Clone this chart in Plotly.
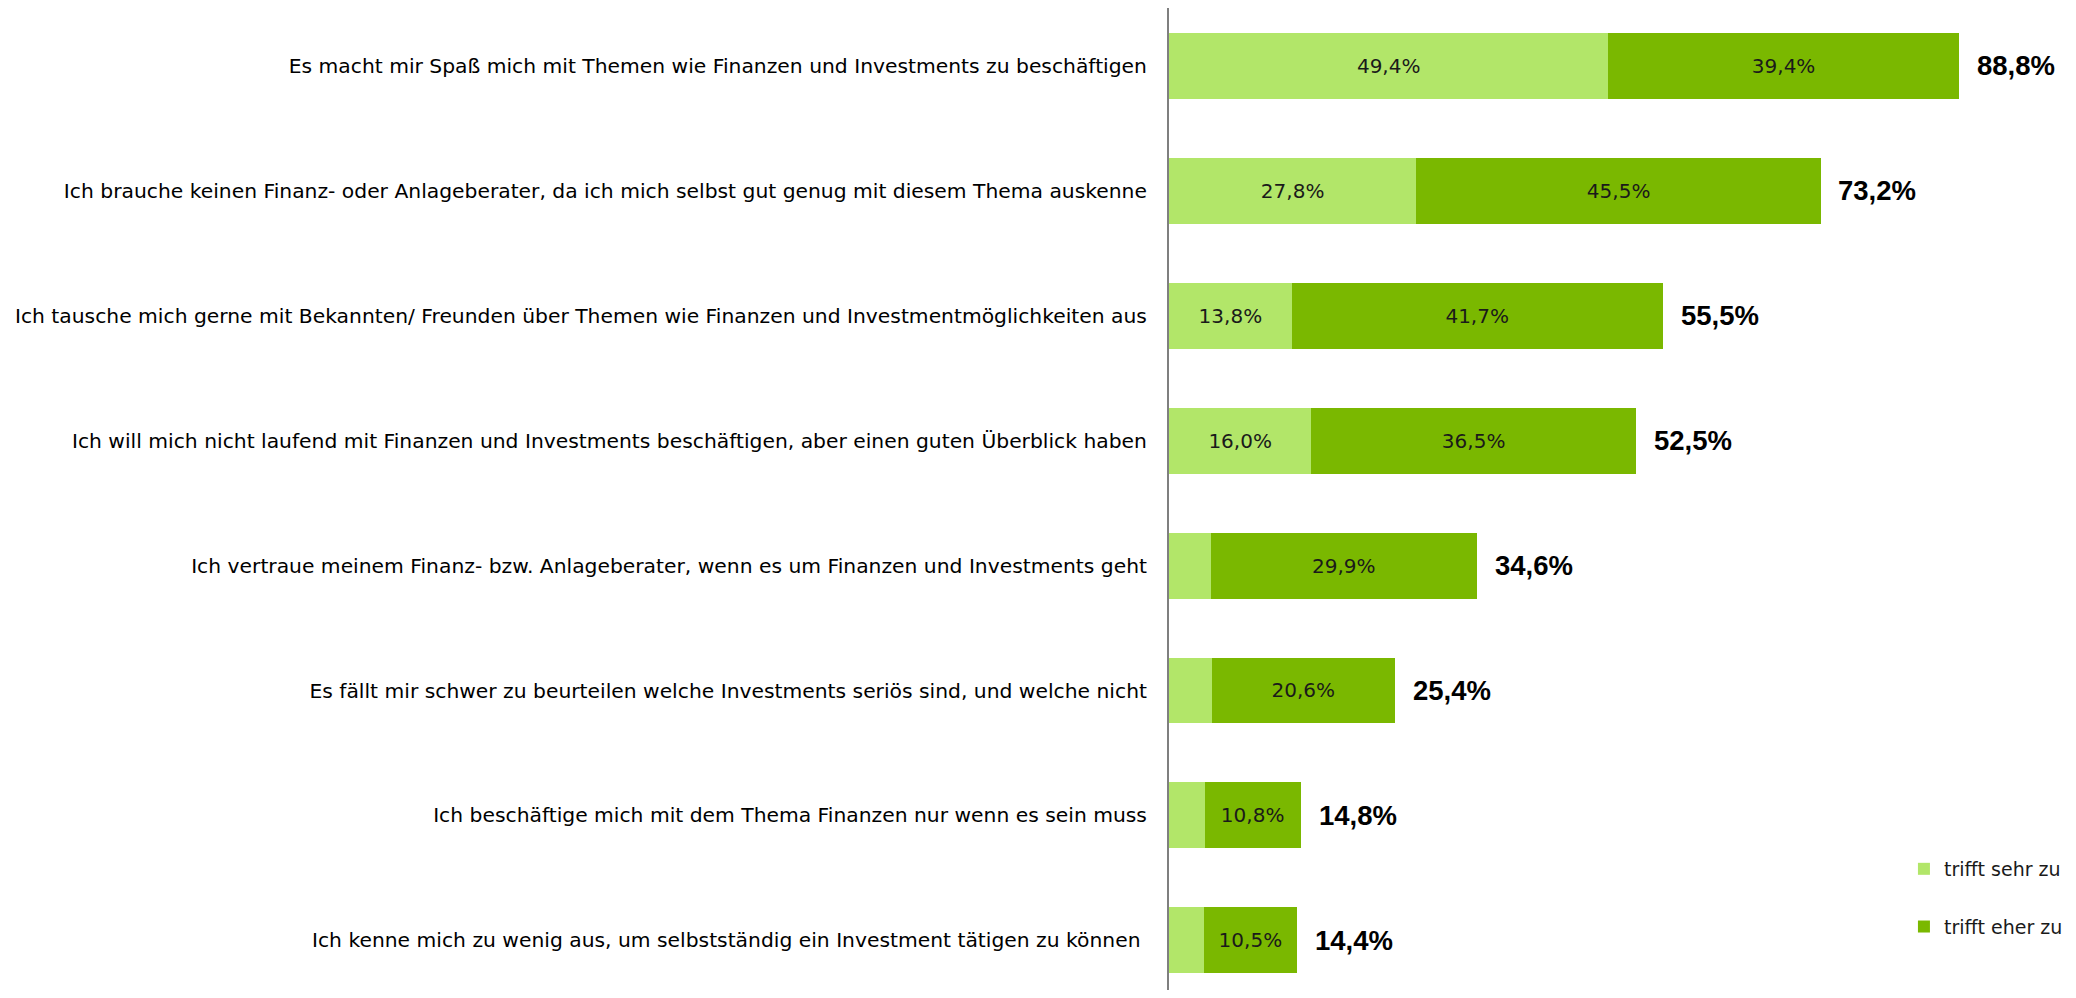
import plotly.graph_objects as go

categories = [
    "Es macht mir Spaß mich mit Themen wie Finanzen und Investments zu beschäftigen",
    "Ich brauche keinen Finanz- oder Anlageberater, da ich mich selbst gut genug mit diesem Thema auskenne",
    "Ich tausche mich gerne mit Bekannten/ Freunden über Themen wie Finanzen und Investmentmöglichkeiten aus",
    "Ich will mich nicht laufend mit Finanzen und Investments beschäftigen, aber einen guten Überblick haben",
    "Ich vertraue meinem Finanz- bzw. Anlageberater, wenn es um Finanzen und Investments geht",
    "Es fällt mir schwer zu beurteilen welche Investments seriös sind, und welche nicht",
    "Ich beschäftige mich mit dem Thema Finanzen nur wenn es sein muss",
    "Ich kenne mich zu wenig aus, um selbstständig ein Investment tätigen zu können ",
]
sehr_zu = [49.4, 27.8, 13.8, 16.0, 4.7, 4.8, 4.0, 3.9]
eher_zu = [39.4, 45.5, 41.7, 36.5, 29.9, 20.6, 10.8, 10.5]
totals = [88.8, 73.2, 55.5, 52.5, 34.6, 25.4, 14.8, 14.4]
series_names = ["trifft sehr zu", "trifft eher zu"]

LIGHT = "#B2E669"
DARK = "#7AB800"
FONT = "DejaVu Sans, Liberation Sans, sans-serif"
BOLD_FONT = "Liberation Sans, Arial, sans-serif"


def fmt(v):
    return f"{v:.1f}%".replace(".", ",")


def seg_text(vals):
    return [fmt(v) if v >= 10 else "" for v in vals]


fig = go.Figure()
fig.add_trace(go.Bar(
    y=categories, x=sehr_zu, orientation="h", name=series_names[0],
    marker=dict(color=LIGHT, line=dict(width=0)),
    text=seg_text(sehr_zu), textposition="inside", insidetextanchor="middle",
    textfont=dict(size=20, color="#1a1a1a", family=FONT),
    legendgroup="a", hoverinfo="skip",
))
fig.add_trace(go.Bar(
    y=categories, x=eher_zu, orientation="h", name=series_names[1],
    marker=dict(color=DARK, line=dict(width=0)),
    text=seg_text(eher_zu), textposition="inside", insidetextanchor="middle",
    textfont=dict(size=20, color="#1a1a1a", family=FONT),
    legendgroup="b", hoverinfo="skip",
))

for cat, tot in zip(categories, totals):
    fig.add_annotation(
        x=tot, y=cat, xref="x", yref="y", text=f"<b>{fmt(tot)}</b>",
        showarrow=False, xanchor="left", yanchor="middle", xshift=16,
        font=dict(size=27.5, color="#000000", family=BOLD_FONT),
    )

fig.update_layout(
    width=2060, height=982,
    barmode="stack", bargap=0.472,
    margin=dict(l=1161, r=0, t=0, b=0),
    paper_bgcolor="white", plot_bgcolor="white",
    font=dict(family=FONT, color="#000000"),
    uniformtext=dict(mode="show", minsize=8),
    showlegend=True,
    legend=dict(
        x=0.823, y=0.1426, xanchor="left", yanchor="top",
        traceorder="grouped", tracegroupgap=30,
        font=dict(size=19, family=FONT, color="#1a1a1a"),
        bgcolor="rgba(0,0,0,0)",
    ),
    xaxis=dict(range=[0, 100.4], showgrid=False, zeroline=False,
               showticklabels=False, showline=False, fixedrange=True),
    yaxis=dict(range=[7.398, -0.464], showgrid=False, zeroline=False,
               showline=True, linecolor="#7f7f7f", linewidth=2,
               ticks="", ticklabelstandoff=16,
               tickfont=dict(size=20.3, family=FONT, color="#000000"),
               fixedrange=True),
)

fig.write_html("out.html")
